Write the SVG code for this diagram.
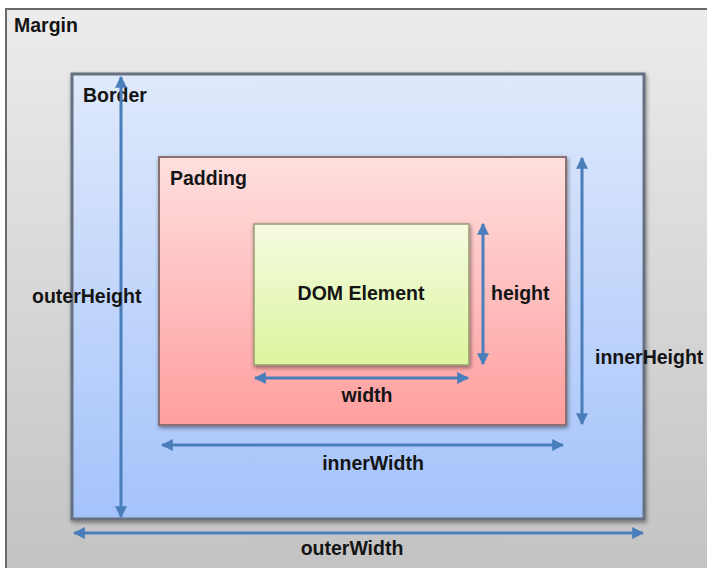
<svg xmlns="http://www.w3.org/2000/svg" width="707" height="568" viewBox="0 0 707 568">
  <defs>
    <linearGradient id="gMargin" x1="0" y1="0" x2="0" y2="1">
      <stop offset="0" stop-color="#ececec"/>
      <stop offset="1" stop-color="#c3c3c3"/>
    </linearGradient>
    <linearGradient id="gBorder" x1="0" y1="0" x2="0" y2="1">
      <stop offset="0" stop-color="#dfe9fb"/>
      <stop offset="1" stop-color="#a4c3fb"/>
    </linearGradient>
    <linearGradient id="gPadding" x1="0" y1="0" x2="0" y2="1">
      <stop offset="0" stop-color="#ffdfdf"/>
      <stop offset="1" stop-color="#ff9e9e"/>
    </linearGradient>
    <linearGradient id="gDom" x1="0" y1="0" x2="0" y2="1">
      <stop offset="0" stop-color="#f5fbe2"/>
      <stop offset="1" stop-color="#dcf59e"/>
    </linearGradient>
    <filter id="shadow" x="-10%" y="-10%" width="120%" height="120%">
      <feDropShadow dx="1" dy="2" stdDeviation="2" flood-color="#000" flood-opacity="0.45"/>
    </filter>
    <marker id="arr" viewBox="0 0 10 10" refX="9" refY="5" markerWidth="4" markerHeight="4" orient="auto-start-reverse" markerUnits="strokeWidth">
      <path d="M0,0 L10,5 L0,10 z" fill="#4a7ebb"/>
    </marker>
    <style>
      .lbl { font-family: "Liberation Sans", Arial, sans-serif; font-weight: bold; font-size: 19.5px; fill: #141414; }
      .mid { text-anchor: middle; }
      .arrow { stroke: #4a7ebb; stroke-width: 3; fill: none; marker-start: url(#arr); marker-end: url(#arr); }
    </style>
  </defs>
  <rect x="0" y="0" width="707" height="568" fill="#ffffff"/>

  <g id="margin">
    <rect x="6" y="9" width="702" height="560" fill="url(#gMargin)" stroke="#6a6a6a" stroke-width="2"/>
    <text class="lbl" x="14" y="32">Margin</text>
  </g>

  <g id="border">
    <rect x="72" y="74" width="572" height="445" fill="url(#gBorder)" stroke="#667080" stroke-width="3" filter="url(#shadow)"/>
    <text class="lbl" x="83" y="102">Border</text>
  </g>

  <g id="padding">
    <rect x="159" y="157" width="407" height="268" fill="url(#gPadding)" stroke="#8a7070" stroke-width="2" filter="url(#shadow)"/>
    <text class="lbl" x="170" y="185">Padding</text>
  </g>

  <g id="dom-element">
    <rect x="254" y="224" width="215" height="141" fill="url(#gDom)" stroke="#9a9a72" stroke-width="1.5" filter="url(#shadow)"/>
    <text class="lbl mid" x="361" y="300">DOM Element</text>
  </g>

  <g id="connectors">
    <line class="arrow" x1="121" y1="77" x2="121" y2="517"/>
    <line class="arrow" x1="582" y1="158" x2="582" y2="424"/>
    <line class="arrow" x1="483" y1="224" x2="483" y2="364"/>
    <line class="arrow" x1="255" y1="378" x2="468" y2="378"/>
    <line class="arrow" x1="162" y1="445" x2="563" y2="445"/>
    <line class="arrow" x1="74" y1="533" x2="643" y2="533"/>
  </g>

  <g id="labels">
    <text class="lbl" x="32" y="303">outerHeight</text>
    <text class="lbl" x="595" y="364">innerHeight</text>
    <text class="lbl" x="491" y="300">height</text>
    <text class="lbl mid" x="367" y="402">width</text>
    <text class="lbl mid" x="373" y="470">innerWidth</text>
    <text class="lbl mid" x="352" y="555">outerWidth</text>
  </g>
</svg>
